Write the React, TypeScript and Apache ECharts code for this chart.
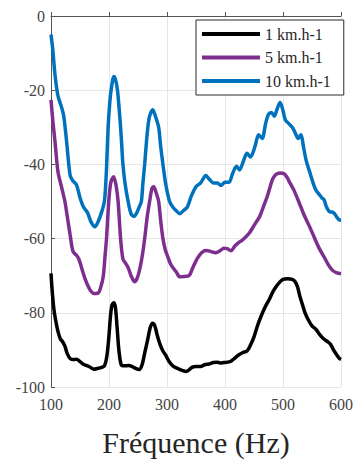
import React, { useEffect, useRef } from "react";
import * as echarts from "echarts";

const seriesNames = ["1 km.h-1", "5 km.h-1", "10 km.h-1"];
const seriesColors = ["#000000", "#7E2F8E", "#0072BD"];
const xTicks = [100, 200, 300, 400, 500, 600];
const yTicks = [-100, -80, -60, -40, -20, 0];

const oneKm: number[][] = [
  [100,-69.4],[102,-74],[105,-79],[108,-82],[112,-85],[116,-87],[120,-87.8],[124,-89],[128,-91],[133,-92.3],[139,-92.6],[144,-92.5],[149,-93],[155,-93.8],[161,-94.2],[167,-94.6],[174,-95.2],[180,-95],[186,-94.8],[192,-94.3],[196,-92],[199.5,-87],[202.5,-81],[205,-78],[208,-77.3],[211,-78.5],[214,-84],[217,-90],[221,-94],[226,-94.3],[234,-94.2],[240,-94.5],[246,-95],[252,-95.3],[257,-94],[262,-90.5],[267,-87],[271,-84],[275,-82.8],[279,-83.5],[283,-86],[288,-88.5],[293,-90.3],[298,-91.5],[303,-93],[310,-94.3],[318,-95],[326,-95.5],[333,-95.8],[338,-95.4],[343,-94.7],[350,-94.5],[358,-94.5],[365,-94],[372,-93.8],[380,-93.4],[386,-93.3],[392,-93.5],[398,-93.4],[405,-93.3],[411,-93],[417,-92.2],[424,-91.3],[431,-90.7],[438,-90.3],[444,-88.7],[450,-86.5],[456,-83.5],[462,-81],[469,-78.5],[476,-76.5],[482,-74.5],[488,-73],[494,-71.8],[500,-71],[508,-70.8],[516,-71],[521,-71.6],[525,-73],[529,-75.5],[533,-77.5],[538,-80],[544,-82],[550,-83.5],[557,-84.5],[563,-85.8],[570,-87],[577,-87.8],[582,-88.5],[587,-90],[592,-91.2],[597,-92.3],[600,-92.6]
];

const fiveKm: number[][] = [
  [100,-22.6],[103,-28],[107,-34],[112,-42],[118,-46],[124,-50],[128,-54],[133,-59],[138,-63.5],[144,-64.5],[148,-65.5],[153,-68],[158,-70.5],[163,-72.5],[168,-74],[174,-74.8],[181,-74.7],[186,-73],[190,-70.3],[193,-65],[195.7,-60],[199.6,-50],[203,-45],[208,-43.3],[212,-45.5],[215.7,-50],[220,-60],[224,-65.5],[228,-66.5],[233,-67.8],[238,-70],[244,-71.6],[249,-70.5],[254,-67.5],[258,-64],[261.5,-60],[266,-54],[270,-50],[274,-46.5],[277,-46],[281,-47.5],[285.6,-50],[289,-55],[293,-60],[297,-63],[301.6,-65],[306,-66.8],[310,-67.8],[316,-69],[322,-70.3],[330,-70.2],[338,-70],[344,-68],[350,-66],[356,-64.5],[362,-63.5],[368,-63.2],[376,-63.5],[384,-63.8],[392,-63.2],[398,-62.6],[404,-62.7],[410,-63.3],[417,-62],[424,-61],[430,-60.4],[436,-59.5],[442,-58.5],[448,-57],[454,-55.5],[460,-54],[466,-51.5],[472,-49],[477,-46.5],[482,-44],[488,-42.7],[495,-42.3],[502,-42.5],[507,-43.5],[512,-45],[519,-47],[527,-50],[536,-53.5],[545,-56.5],[554,-59.7],[562,-62.5],[571,-65],[578,-67],[585,-68.5],[592,-69.2],[600,-69.5]
];

const tenKm: number[][] = [
  [100,-5],[103,-9],[107,-16],[112,-21.5],[118,-24.5],[122,-27],[127,-34],[133,-43],[138,-44.5],[144,-45.5],[150,-49],[156,-51.5],[163,-53],[169,-55.5],[175.6,-56.8],[181,-55.5],[187,-53],[192,-50],[194.5,-45],[196,-40],[198.5,-30],[201,-24],[203.6,-20],[208.5,-16.3],[211.5,-17.3],[214.6,-20],[217.5,-25],[220,-30],[222,-35],[224,-40],[228,-45.5],[233,-50],[238,-53.3],[243,-54],[248,-53],[252,-51.5],[255.8,-50],[258.5,-45],[261.5,-40],[264,-35],[267,-30],[270,-27],[275.5,-25.3],[280,-27],[285.6,-30],[289,-35],[293,-40],[298,-45.5],[304.5,-50],[310,-51.5],[316,-52.5],[322,-53.3],[328,-52.5],[335,-51.5],[342,-48.5],[350,-46],[358,-45],[367,-43],[373,-44],[380,-45],[387,-45],[393,-45.7],[400,-44.8],[407,-44.8],[413,-42.5],[420,-40.5],[425,-41.5],[432,-39],[438,-37],[444,-38],[452,-35],[458,-32],[464,-33],[470,-29],[475,-26.5],[480,-26],[485,-27],[490,-25],[495,-23.3],[500,-25.5],[504,-28],[510,-29],[516,-30],[521,-31.5],[526,-33],[531,-32],[535,-35],[540,-39],[547,-42.5],[553,-45.5],[557,-47],[562,-48],[567,-49],[571,-49.6],[575,-51.5],[580,-52.7],[587,-53],[592,-54],[597,-55],[600,-55]
];

const allData = [oneKm, fiveKm, tenKm];
const FONT = "'Liberation Serif', 'DejaVu Serif', 'Times New Roman', serif";

export default function App() {
  const ref = useRef<HTMLDivElement>(null);
  useEffect(() => {
    if (!ref.current) return;
    const chart = echarts.init(ref.current, null, { renderer: "svg" });
    chart.setOption({
      animation: false,
      backgroundColor: "#ffffff",
      textStyle: { fontFamily: FONT },
      grid: { left: 51, right: 14, top: 16, bottom: 76 },
      legend: {
        left: 196,
        top: 20,
        orient: "vertical",
        icon: "rect",
        itemWidth: 58,
        itemHeight: 4,
        itemGap: 7.5,
        padding: [6, 13, 6, 6],
        backgroundColor: "#ffffff",
        borderColor: "#2b2b2b",
        borderWidth: 1,
        textStyle: { fontFamily: FONT, fontSize: 16, color: "#262626" },
        data: seriesNames,
      },
      xAxis: {
        type: "value",
        min: xTicks[0],
        max: xTicks[xTicks.length - 1],
        interval: 100,
        name: "Fréquence (Hz)",
        nameLocation: "middle",
        nameGap: 40,
        nameTextStyle: { fontFamily: FONT, fontSize: 30, color: "#262626" },
        axisLine: { show: true, lineStyle: { color: "#555555", width: 1 } },
        axisTick: { show: true, inside: true, length: 4, lineStyle: { color: "#555555" } },
        axisLabel: { fontFamily: FONT, fontSize: 16, color: "#444444", margin: 9 },
        splitLine: { show: true, lineStyle: { color: "#e6e6e6", width: 1 } },
      },
      yAxis: {
        type: "value",
        min: yTicks[0],
        max: yTicks[yTicks.length - 1],
        interval: 20,
        axisLine: { show: true, lineStyle: { color: "#555555", width: 1 } },
        axisTick: { show: true, inside: true, length: 4, lineStyle: { color: "#555555" } },
        axisLabel: { fontFamily: FONT, fontSize: 16, color: "#444444", margin: 6 },
        splitLine: { show: true, lineStyle: { color: "#e6e6e6", width: 1 } },
      },
      series: allData.map((d, i) => ({
        name: seriesNames[i],
        type: "line",
        data: d,
        showSymbol: false,
        symbol: "none",
        smooth: 0.3,
        color: seriesColors[i],
        lineStyle: { color: seriesColors[i], width: 3.5 },
        z: 2 + i,
      })),
    });
    return () => chart.dispose();
  }, []);
  return (
    <div
      ref={ref}
      style={{ position: "fixed", left: 0, top: 0, width: 356, height: 463 }}
    />
  );
}
